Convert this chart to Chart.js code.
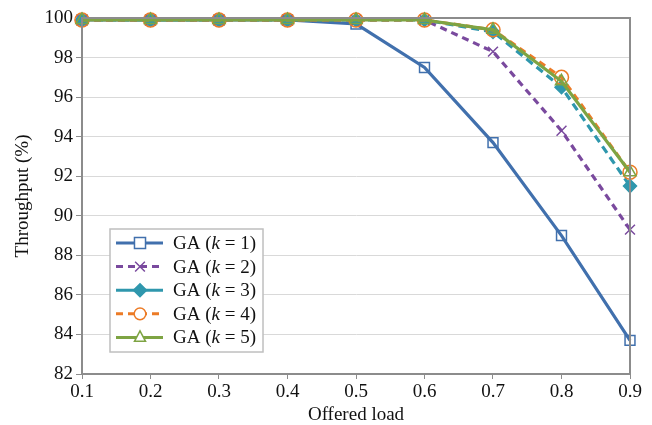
<!DOCTYPE html>
<html>
<head>
<meta charset="utf-8">
<script src="https://cdn.jsdelivr.net/npm/chart.js@4"></script>
<style>
  html, body { margin: 0; padding: 0; background: #fff; }
  #wrap { width: 652px; height: 425px; }
</style>
</head>
<body>
<div id="wrap"><canvas id="chartThroughput"></canvas></div>
<script>
// offered load (x) and throughput (%) for each k
const offeredLoad = [0.1, 0.2, 0.3, 0.4, 0.5, 0.6, 0.7, 0.8, 0.9];
const gaK1 = [99.9, 99.9, 99.9, 99.9, 99.7, 97.5, 93.7, 89.0, 83.7];
const gaK2 = [99.9, 99.9, 99.9, 99.9, 99.9, 99.9, 98.3, 94.3, 89.3];
const gaK3 = [99.9, 99.9, 99.9, 99.9, 99.9, 99.9, 99.3, 96.5, 91.5];
const gaK4 = [99.9, 99.9, 99.9, 99.9, 99.9, 99.9, 99.4, 97.0, 92.2];
const gaK5 = [99.9, 99.9, 99.9, 99.9, 99.9, 99.9, 99.4, 96.8, 92.2];
const seriesKs = ["1", "2", "3", "4", "5"];

const FONT = "'Liberation Serif', 'DejaVu Serif', serif";
const AXIS_GREY = "#8c8c8c";

function toPoints(values) {
    return values.map((v, i) => ({ x: offeredLoad[i], y: v }));
}

function makeSeries(k, values, color, dash, marker, fill, order) {
    return {
        label: "GA (k = " + k + ")",
        kValue: k,
        data: toPoints(values),
        borderColor: color,
        backgroundColor: fill,
        pointBorderColor: color,
        pointBackgroundColor: fill,
        borderWidth: 3.2,
        borderDash: dash,
        pointStyle: marker,
        pointRadius: marker === "rectRot" ? 6.5 : 7,
        pointBorderWidth: 1.5,
        tension: 0,
        clip: false,
        order: order
    };
}

const datasets = [
    makeSeries(seriesKs[0], gaK1, "#4170ad", [], "rect", "rgba(255,255,255,0)", 4),
    makeSeries(seriesKs[1], gaK2, "#7a4a9e", [7, 5], "crossRot", "rgba(255,255,255,0)", 3),
    makeSeries(seriesKs[2], gaK3, "#2f97ad", [8, 5], "rectRot", "#2f97ad", 2),
    makeSeries(seriesKs[3], gaK4, "#ec7b26", [7, 5], "circle", "rgba(255,255,255,0)", 1),
    makeSeries(seriesKs[4], gaK5, "#7ea443", [], "triangle", "rgba(255,255,255,0)", 0)
];
// legend shows k=3 as a solid line
const legendDash = [[], [7, 5], [], [7, 5], []];

// plot frame on all four sides
const framePlugin = {
    id: "frame",
    afterDatasetsDraw(chart) {
        const a = chart.chartArea, ctx = chart.ctx;
        ctx.save();
        ctx.strokeStyle = AXIS_GREY;
        ctx.lineWidth = 2;
        ctx.strokeRect(a.left, a.top, a.right - a.left, a.bottom - a.top);
        ctx.restore();
    }
};

function drawMarkerPath(ctx, style, r, x, y) {
    if (style === "rect") {
        const s = r * 0.85;
        ctx.rect(x - s, y - s, 2 * s, 2 * s);
    } else if (style === "circle") {
        ctx.arc(x, y, r * 0.9, 0, Math.PI * 2);
    } else if (style === "rectRot") {
        ctx.moveTo(x, y - r); ctx.lineTo(x + r, y); ctx.lineTo(x, y + r); ctx.lineTo(x - r, y); ctx.closePath();
    } else if (style === "triangle") {
        ctx.moveTo(x, y - r); ctx.lineTo(x + r * 0.85, y + r * 0.6); ctx.lineTo(x - r * 0.85, y + r * 0.6); ctx.closePath();
    } else if (style === "crossRot") {
        const s = r * 0.75;
        ctx.moveTo(x - s, y - s); ctx.lineTo(x + s, y + s);
        ctx.moveTo(x + s, y - s); ctx.lineTo(x - s, y + s);
    }
}

// legend box inside the plot, Excel-style (line + marker)
const legendPlugin = {
    id: "insideLegend",
    afterDraw(chart) {
        const ctx = chart.ctx;
        const boxX = 110, boxY = 229, boxW = 153, boxH = 123;
        ctx.save();
        ctx.fillStyle = "#fff";
        ctx.fillRect(boxX, boxY, boxW, boxH);
        ctx.strokeStyle = "#bfbfbf";
        ctx.lineWidth = 1.5;
        ctx.strokeRect(boxX, boxY, boxW, boxH);
        chart.data.datasets.forEach((ds, i) => {
            const y = 243 + i * 23.6;
            ctx.strokeStyle = ds.borderColor;
            ctx.lineWidth = 3;
            ctx.setLineDash(legendDash[i]);
            ctx.beginPath();
            ctx.moveTo(116, y);
            ctx.lineTo(163, y);
            ctx.stroke();
            ctx.setLineDash([]);

            ctx.strokeStyle = ds.pointBorderColor;
            ctx.lineWidth = 1.5;
            ctx.beginPath();
            drawMarkerPath(ctx, ds.pointStyle, 6.5, 140, y);
            ctx.fillStyle = ds.pointStyle === "rectRot" ? ds.pointBackgroundColor : "#fff";
            if (ds.pointStyle !== "crossRot") ctx.fill();
            ctx.stroke();

            // text with italic k
            ctx.fillStyle = "#111";
            ctx.textBaseline = "middle";
            let tx = 173;
            const parts = [["GA (", "normal"], ["k", "italic"], [" = " + ds.kValue + ")", "normal"]];
            parts.forEach(p => {
                ctx.font = p[1] + " 19px " + FONT;
                ctx.fillText(p[0], tx, y + 1);
                tx += ctx.measureText(p[0]).width;
            });
        });
        ctx.restore();
    }
};

new Chart(document.getElementById("chartThroughput"), {
    type: "line",
    data: { datasets: datasets },
    options: {
        responsive: true,
        maintainAspectRatio: false,
        animation: false,
        layout: { padding: { left: 0, top: 18, right: 22, bottom: 0 } },
        plugins: {
            legend: { display: false },
            tooltip: { enabled: false }
        },
        scales: {
            x: {
                type: "linear",
                min: 0.1,
                max: 0.9,
                ticks: {
                    stepSize: 0.1,
                    color: "#111",
                    padding: 2,
                    font: { family: FONT, size: 19 },
                    callback: v => Number(v).toFixed(1)
                },
                grid: {
                    drawOnChartArea: false,
                    drawTicks: true,
                    tickLength: 5,
                    color: AXIS_GREY
                },
                border: { color: AXIS_GREY, width: 2 },
                title: {
                    display: true,
                    text: "Offered load",
                    color: "#111",
                    padding: { top: 0, bottom: -1 },
                    font: { family: FONT, size: 19 }
                },
                afterFit(scale) { scale.height = 51; }
            },
            y: {
                min: 82,
                max: 100,
                ticks: {
                    stepSize: 2,
                    color: "#111",
                    padding: 3,
                    font: { family: FONT, size: 19 }
                },
                grid: {
                    drawOnChartArea: true,
                    drawTicks: true,
                    tickLength: 6,
                    color: function(context) {
                        return "#d9d9d9";
                    },
                    tickColor: AXIS_GREY
                },
                border: { color: AXIS_GREY, width: 2 },
                title: {
                    display: true,
                    text: "Throughput (%)",
                    color: "#111",
                    padding: { top: 12, bottom: 0 },
                    font: { family: FONT, size: 19 }
                },
                afterFit(scale) { scale.width = 82; }
            }
        }
    },
    plugins: [framePlugin, legendPlugin]
});
</script>
</body>
</html>
